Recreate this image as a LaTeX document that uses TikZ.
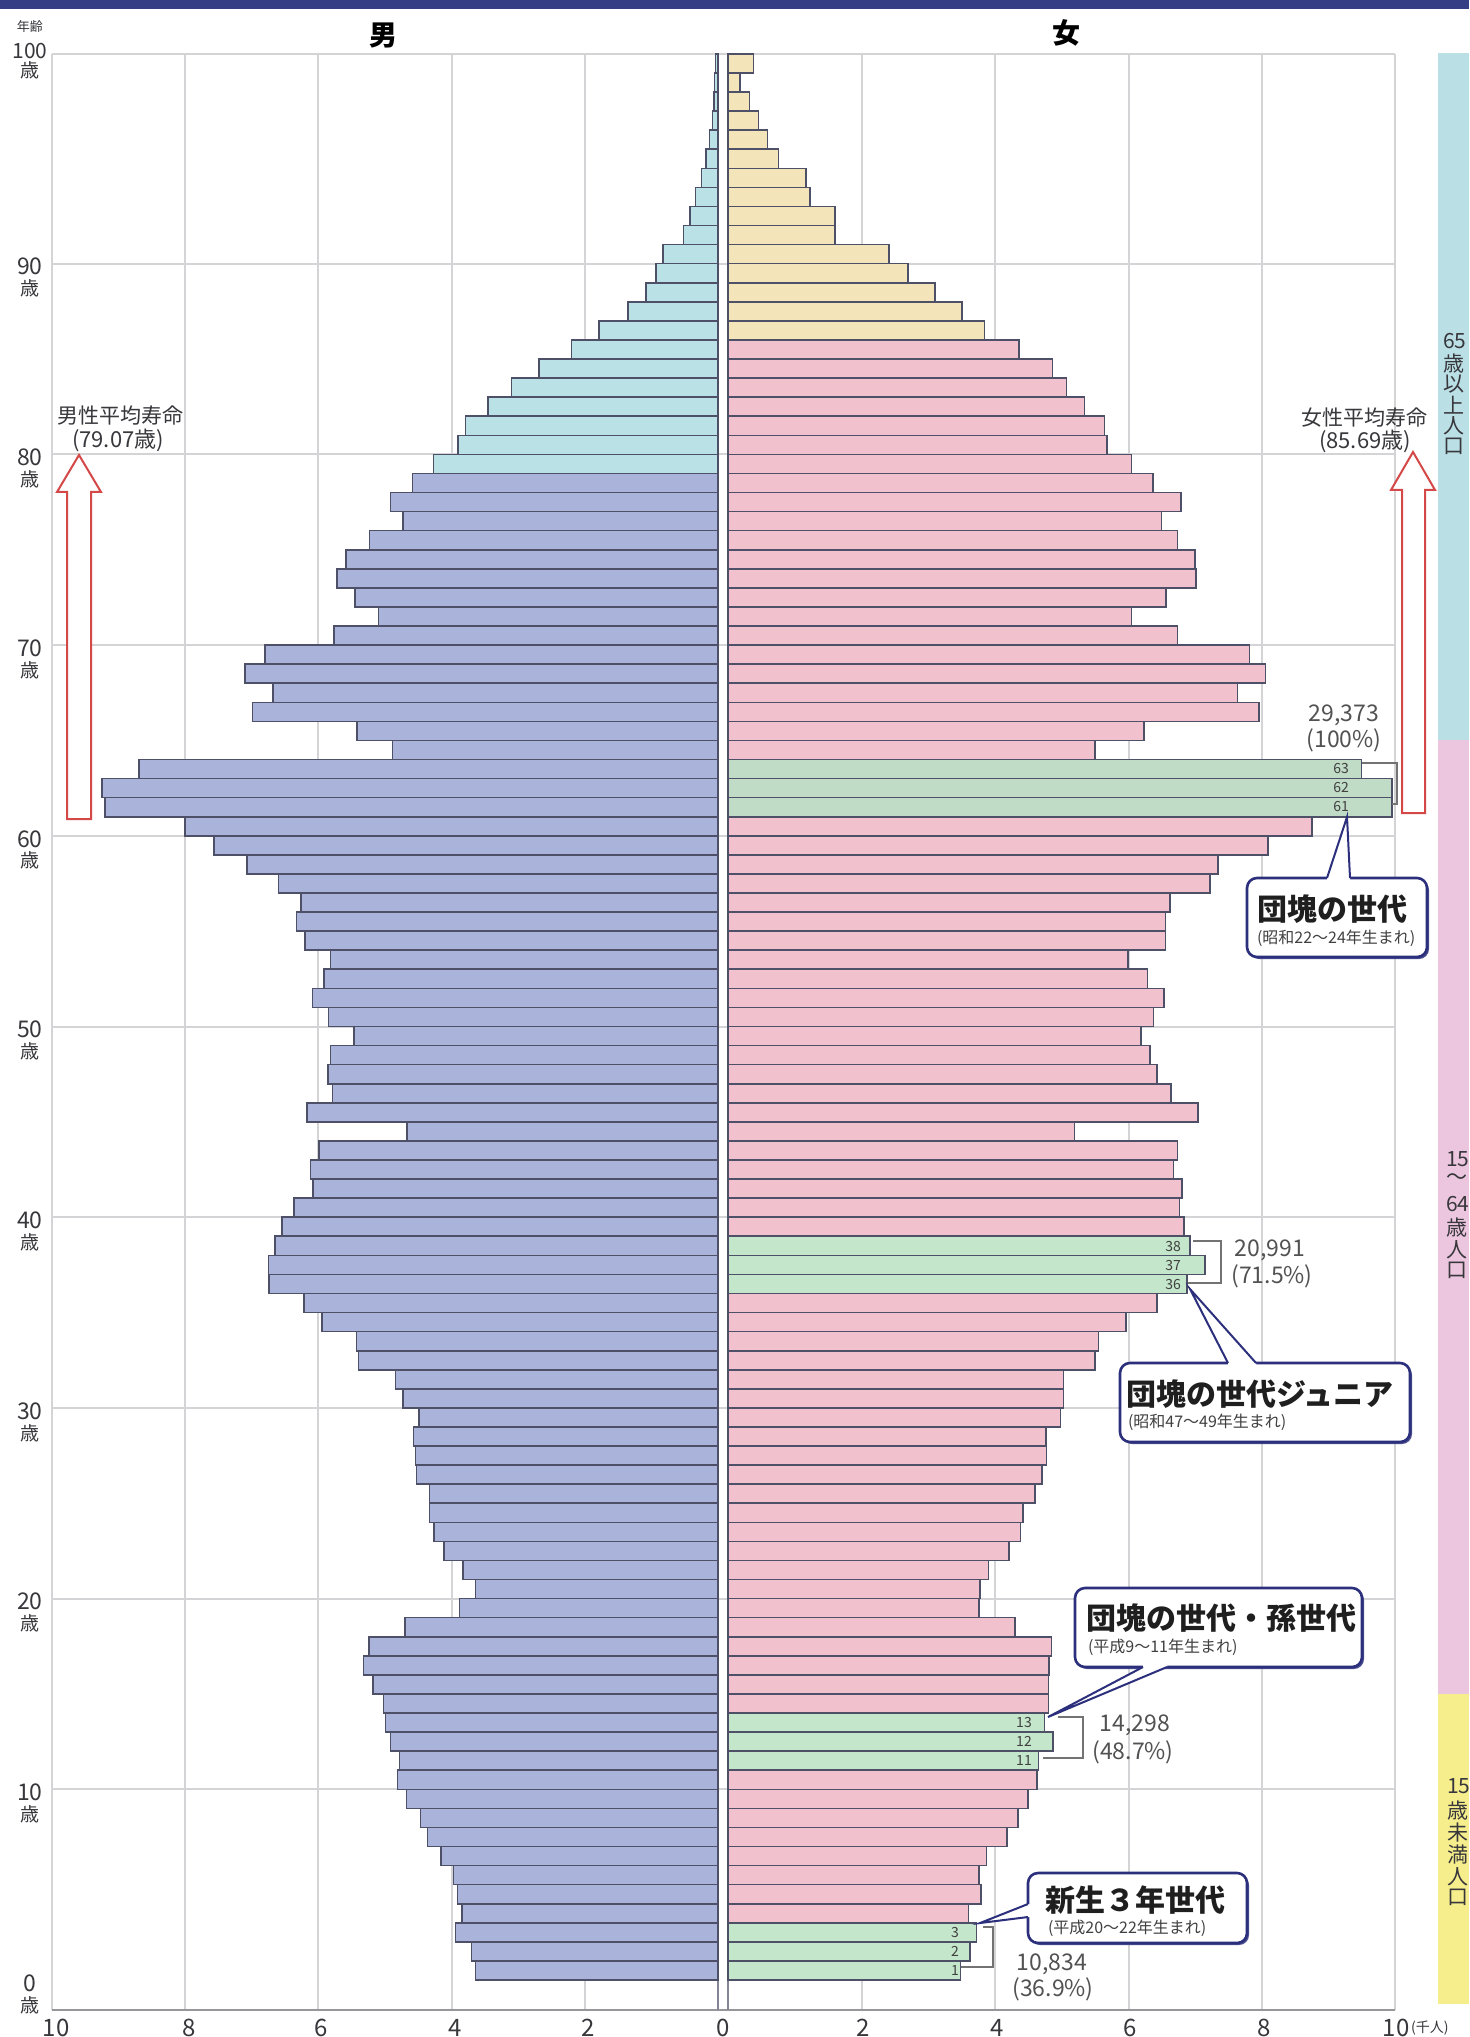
\documentclass[tikz,border=0pt]{standalone}
\usepackage{fontspec}
\newfontfamily\jp{Noto Sans CJK JP}
\newcommand\myfs[1]{\fontsize{#1}{#1}\selectfont}
\definecolor{mblue}{RGB}{170,180,218}
\definecolor{mcyan}{RGB}{186,226,230}
\definecolor{fpink}{RGB}{241,194,206}
\definecolor{ftan}{RGB}{244,228,186}
\definecolor{fgreen}{RGB}{196,230,202}
\definecolor{fgreenb}{RGB}{192,220,198}
\definecolor{baredge}{RGB}{78,80,104}
\definecolor{gridgray}{RGB}{212,212,214}
\definecolor{axisgray}{RGB}{150,150,155}
\definecolor{navy}{RGB}{44,48,124}
\definecolor{arrowred}{RGB}{212,72,72}
\definecolor{stripblue}{RGB}{186,224,230}
\definecolor{strippink}{RGB}{236,198,222}
\definecolor{stripyellow}{RGB}{246,238,140}
\definecolor{txt}{RGB}{55,55,60}
\definecolor{headnavy}{RGB}{52,62,132}
\begin{document}
\begin{tikzpicture}[x=0.5pt,y=-0.5pt,
  every node/.style={inner sep=0pt,outer sep=0pt,font=\jp,text=txt},
  gridl/.style={draw=gridgray,line width=1pt},
  bar/.style={draw=baredge,line width=0.8pt},
  cbox/.style={draw=navy,line width=1.3pt,fill=white,rounded corners=5pt},
  cshadow/.style={fill=navy!85,rounded corners=5pt},
  cline/.style={draw=navy,line width=1pt},
  brk/.style={draw=black!55,line width=0.8pt},
  lifearrow/.style={draw=arrowred,fill=white,line width=1pt,line join=miter},
  cbig/.style={font=\jp\bfseries\myfs{15pt},text=black!88},
  csmall/.style={font=\jp\myfs{8pt},text=black!75},
  numlab/.style={font=\jp\myfs{11.5pt},text=black!68},
  barlab/.style={font=\jp\myfs{7pt},text=black!75},
  agelab/.style={font=\jp\myfs{11.5pt}},
  sailab/.style={font=\jp\myfs{9.5pt}},
  striplab/.style={font=\jp\myfs{10.5pt},anchor=north west},
  ticklab/.style={font=\jp\myfs{12pt},anchor=north}]
\useasboundingbox (0,0) rectangle (1469,2037);
\fill[white] (0,0) rectangle (1469,2037);
% header band
\fill[headnavy] (0,0) rectangle (1469,9);
% right strips
\fill[stripblue] (1438,53) rectangle (1469,740);
\fill[strippink] (1438,740) rectangle (1469,1694);
\fill[stripyellow] (1438,1694) rectangle (1469,2004);
\foreach \ch [count=\k from 0] in {65,歳,以,上,人,口}
  \node[striplab] (sa\k) at (1443,{333+\k*21}) {\ch};
\foreach \ch [count=\k from 0] in {15,〜,64,歳,人,口}
  \node[striplab] (sb\k) at (1446,{1152+\k*22}) {\ch};
\foreach \ch [count=\k from 0] in {15,歳,未,満,人,口}
  \node[striplab] (sc\k) at (1447,{1779+\k*22}) {\ch};
% grid
\foreach \gx in {52,185.2,318.4,451.6,584.8,862.2,995.4,1128.6,1261.8,1395}
  \draw[gridl] (\gx,54) -- (\gx,2010);
\draw[gridl] (52,54) -- (1395,54);
\foreach \n in {10,20,...,90}
  \draw[gridl] (52,{1980-\n*19.07}) -- (1395,{1980-\n*19.07});
\draw[axisgray,line width=1.4pt] (52,2010) -- (1395,2010);
\draw[baredge!70,line width=0.7pt] (718,54) -- (718,2010);
\draw[baredge!70,line width=0.7pt] (728,54) -- (728,2010);
% male bars
\foreach \v [count=\c from 0] in {
3.64,3.70,3.94,3.84,3.91,3.97,4.16,4.36,4.47,4.68,
4.81,4.78,4.92,4.99,5.02,5.18,5.32,5.24,4.70,3.88,
3.64,3.83,4.11,4.26,4.33,4.33,4.53,4.54,4.57,4.49,
4.73,4.84,5.40,5.43,5.95,6.22,6.74,6.75,6.65,6.55,
6.37,6.08,6.12,5.99,4.67,6.17,5.79,5.86,5.82,5.47,
5.85,6.09,5.92,5.82,6.20,6.33,6.26,6.60,7.07,7.57,
8.00,9.20,9.25,8.69,4.89,5.42,6.99,6.68,7.10,6.80,
5.77,5.10,5.45,5.72,5.59,5.23,4.73,4.92,4.59,4.27,
3.90,3.79,3.45,3.10,2.69,2.20,1.79,1.35,1.08,0.93,
0.83,0.52,0.42,0.34,0.25,0.18,0.13,0.08,0.06,0.05,
0.04} {
  \pgfmathsetmacro\yt{1980-(\c+1)*19.07}
  \pgfmathsetmacro\yb{1980-\c*19.07}
  \pgfmathsetmacro\xl{718-\v*66.6}
  \ifnum\c>78 \def\fc{mcyan}\else\def\fc{mblue}\fi
  \draw[bar,fill=\fc] (\xl,\yt) rectangle (718,\yb);
}
% female bars
\foreach \v [count=\c from 0] in {
3.49,3.63,3.73,3.61,3.80,3.77,3.88,4.19,4.35,4.50,
4.64,4.66,4.88,4.75,4.81,4.81,4.82,4.86,4.31,3.77,
3.78,3.91,4.22,4.39,4.43,4.61,4.71,4.78,4.77,4.99,
5.04,5.04,5.51,5.56,5.98,6.44,6.89,7.16,6.94,6.85,
6.78,6.82,6.69,6.75,5.20,7.06,6.65,6.44,6.34,6.20,
6.39,6.55,6.30,6.01,6.57,6.57,6.64,7.24,7.36,8.11,
8.77,9.97,9.97,9.51,5.51,6.25,7.97,7.65,8.07,7.83,
6.75,6.06,6.58,7.03,7.01,6.75,6.51,6.80,6.38,6.06,
5.69,5.65,5.35,5.08,4.87,4.37,3.85,3.51,3.11,2.70,
2.42,1.61,1.61,1.23,1.17,0.76,0.59,0.46,0.32,0.18,
0.38} {
  \pgfmathsetmacro\yt{1980-(\c+1)*19.07}
  \pgfmathsetmacro\yb{1980-\c*19.07}
  \pgfmathsetmacro\xr{728+\v*66.6}
  \def\fc{fpink}
  \ifnum\c>85 \def\fc{ftan}\fi
  \ifnum\c<3 \def\fc{fgreen}\fi
  \ifnum\c>10 \ifnum\c<14 \def\fc{fgreen}\fi\fi
  \ifnum\c>35 \ifnum\c<39 \def\fc{fgreen}\fi\fi
  \ifnum\c>60 \ifnum\c<64 \def\fc{fgreenb}\fi\fi
  \draw[bar,fill=\fc] (728,\yt) rectangle (\xr,\yb);
}
% age labels
\node[font=\jp\myfs{6.5pt}] (nenrei) at (30,27) {年齢};
\node[font=\jp\myfs{10.5pt}] (age100) at (30,51) {100};
\node[sailab] (sai100) at (30,70) {歳};
\foreach \n in {0,10,20,...,90} {
  \node[agelab] (age\n) at (30,{1983-\n*19.07}) {\n};
  \node[sailab] (sai\n) at (30,{2005-\n*19.07}) {歳};
}
% sex headers
\node[font=\jp\bfseries\myfs{14pt},text=black] (otoko) at (383,36) {男};
\node[font=\jp\bfseries\myfs{14pt},text=black] (onna) at (1066,33) {女};
% x tick labels
\foreach \tx/\tl [count=\k] in {56/10,189/8,321/6,455/4,588/2,723/0,863/2,997/4,1130/6,1264/8,1396/10}
  \node[ticklab] (tick\k) at (\tx,2019) {\tl};
\node[font=\jp\myfs{7pt},anchor=west] (senjin) at (1411,2028) {(千人)};
% life expectancy arrows
\draw[lifearrow] (79,455) -- (101,492) -- (91,492) -- (91,819) -- (67,819) -- (67,492) -- (57,492) -- cycle;
\draw[lifearrow] (1413,452) -- (1435,490) -- (1425,490) -- (1425,813) -- (1402,813) -- (1402,490) -- (1391,490) -- cycle;
\node[font=\jp\myfs{10.5pt}] (mlife) at (120,416) {男性平均寿命};
\node[font=\jp\myfs{11pt}] (mlifev) at (118,440) {(79.07歳)};
\node[font=\jp\myfs{10.5pt}] (flife) at (1364,418) {女性平均寿命};
\node[font=\jp\myfs{11pt}] (flifev) at (1365,441) {(85.69歳)};
% bar labels
\foreach \lb/\ly in {63/769,62/788,61/807} \node[barlab] (bl\lb) at (1341,\ly) {\lb};
\foreach \lb/\ly in {38/1246,37/1265,36/1284} \node[barlab] (bl\lb) at (1173,\ly) {\lb};
\foreach \lb/\ly in {13/1722.5,12/1741.6,11/1760.7} \node[barlab] (bl\lb) at (1024,\ly) {\lb};
\foreach \lb/\ly in {3/1932.3,2/1951.4,1/1970.5} \node[barlab] (bs\lb) at (955,\ly) {\lb};
% brackets
\draw[brk] (1362,763) -- (1397,763) -- (1397,804) -- (1392,804);
\draw[brk] (1193,1241) -- (1221,1241) -- (1221,1283) -- (1188,1283);
\draw[brk] (1058,1717) -- (1083,1717) -- (1083,1758) -- (1043,1758);
\draw[brk] (983,1927) -- (993,1927) -- (993,1967) -- (961,1967);
% totals
\node[numlab] (n1a) at (1344,715) {29,373};
\node[numlab] (n1b) at (1344,740) {(100\%)};
\node[numlab] (n2a) at (1270,1250) {20,991};
\node[numlab] (n2b) at (1272,1276) {(71.5\%)};
\node[numlab] (n3a) at (1135,1725) {14,298};
\node[numlab] (n3b) at (1133,1752) {(48.7\%)};
\node[numlab] (n4a) at (1052,1964) {10,834};
\node[numlab] (n4b) at (1053,1989) {(36.9\%)};
% callout 1: dankai
\fill[cshadow] (1249,880) rectangle (1429,959);
\draw[cbox] (1247,878) rectangle (1427,957);
\fill[white] (1347,817) -- (1327,878) -- (1327,884) -- (1350,884) -- (1350,878) -- cycle;
\draw[cline] (1327,878) -- (1347,817) -- (1350,878);
\node[cbig,anchor=west] (c1a) at (1257,909) {団塊の世代};
\node[csmall,anchor=west] (c1b) at (1257,938) {(昭和22〜24年生まれ)};
% callout 2: junior
\fill[cshadow] (1122,1365) rectangle (1412,1444);
\draw[cbox] (1120,1363) rectangle (1410,1442);
\fill[white] (1190,1289) -- (1228,1363) -- (1228,1369) -- (1256,1369) -- (1256,1363) -- cycle;
\draw[cline] (1228,1363) -- (1190,1289) -- (1256,1363);
\node[cbig,anchor=west] (c2a) at (1126,1394) {団塊の世代ジュニア};
\node[csmall,anchor=west] (c2b) at (1128,1422) {(昭和47〜49年生まれ)};
% callout 3: grandchildren
\fill[cshadow] (1077,1590) rectangle (1364,1669);
\draw[cbox] (1075,1588) rectangle (1362,1667);
\fill[white] (1048,1717) -- (1143,1667) -- (1143,1661) -- (1167,1661) -- (1167,1667) -- cycle;
\draw[cline] (1143,1667) -- (1048,1717) -- (1167,1667);
\node[cbig,anchor=west] (c3a) at (1086,1618) {団塊の世代・孫世代};
\node[csmall,anchor=west] (c3b) at (1088,1647) {(平成9〜11年生まれ)};
% callout 4: newborn
\fill[cshadow] (1030,1875) rectangle (1249,1945);
\draw[cbox] (1028,1873) rectangle (1247,1943);
\fill[white] (980,1923) -- (1028,1904) -- (1034,1904) -- (1034,1917) -- (1028,1917) -- cycle;
\draw[cline] (1028,1904) -- (980,1923) -- (1028,1917);
\node[cbig,anchor=west] (c4a) at (1045,1900) {新生３年世代};
\node[csmall,anchor=west] (c4b) at (1048,1928) {(平成20〜22年生まれ)};
\end{tikzpicture}
\end{document}
